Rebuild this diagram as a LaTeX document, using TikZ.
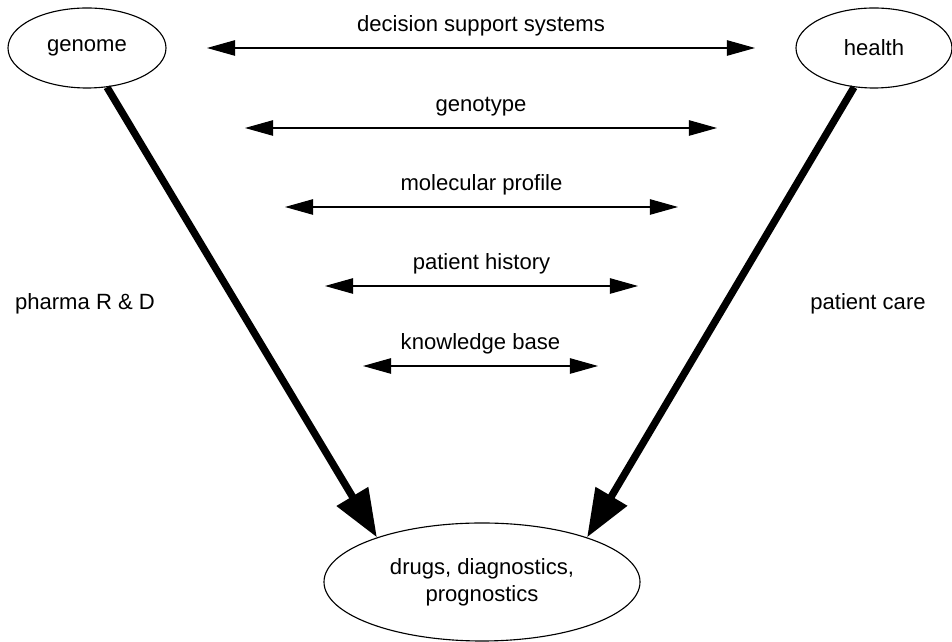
\documentclass[tikz,border=0pt]{standalone}
\usepackage{fontspec}
\setmainfont{Liberation Sans}
\usetikzlibrary{arrows.meta,shapes.geometric}

\tikzset{
  blob/.style={draw, thick, ellipse, inner sep=0pt},
  link/.style={thick, {Triangle[length=20pt,width=11pt]}-{Triangle[length=20pt,width=11pt]}},
  flow/.style={line width=5.2pt, -{Triangle[length=34pt,width=25pt]}},
}

\begin{document}
\begin{tikzpicture}[font=\fontsize{15.7}{19.2}\selectfont]
    \useasboundingbox (0,0) rectangle (23.8,16.05);

    % The three ellipses
    \node[blob, minimum width=3.95cm, minimum height=2cm] (genome) at (2.175,14.85) {genome};
    \node[blob, minimum width=3.9cm, minimum height=2cm] (health) at (21.85,14.85) {health};
    \node[blob, minimum width=7.9cm, minimum height=2.95cm, align=center] (drugs) at (12.05,1.5)
        {drugs, diagnostics,\\prognostics};

    % Thick arrows down to the bottom ellipse
    \draw[flow] (genome.-63) -- (drugs.157);
    \draw[flow] (health.243) -- (drugs.23);

    % Side labels
    \node (pharma) at (2.125,8.45) {pharma R \& D};
    \node (care) at (21.7,8.45) {patient care};

    % End points of the double arrows
    \coordinate (dssL) at (5.175,14.85);
    \coordinate (dssR) at (18.875,14.85);
    \coordinate (genoL) at (6.125,12.85);
    \coordinate (genoR) at (17.925,12.85);
    \coordinate (molL) at (7.125,10.875);
    \coordinate (molR) at (16.95,10.875);
    \coordinate (histL) at (8.125,8.9);
    \coordinate (histR) at (15.95,8.9);
    \coordinate (kbL) at (9.075,6.9);
    \coordinate (kbR) at (14.95,6.9);

    % Double arrows with their labels
    \draw[link] (dssL) -- (dssR) node[midway, above=5pt] (dss) {decision support systems};
    \draw[link] (genoL) -- (genoR) node[midway, above=5pt] (geno) {genotype};
    \draw[link] (molL) -- (molR) node[midway, above=5pt] (mol) {molecular profile};
    \draw[link] (histL) -- (histR) node[midway, above=5pt] (hist) {patient history};
    \draw[link] (kbL) -- (kbR) node[midway, above=5pt] (kb) {knowledge base};
\end{tikzpicture}
\end{document}
